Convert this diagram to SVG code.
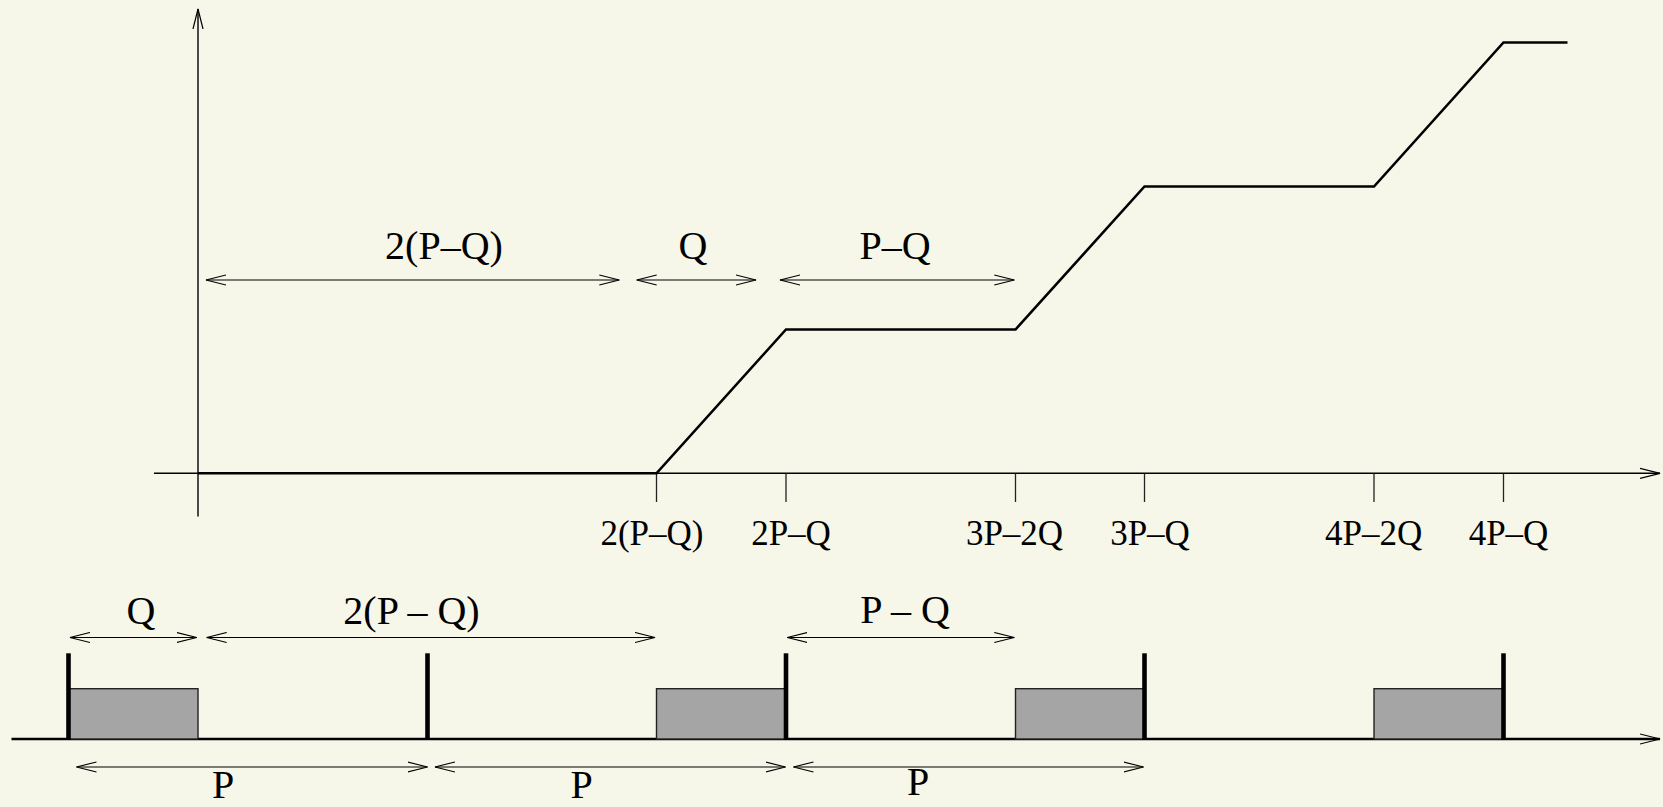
<svg xmlns="http://www.w3.org/2000/svg" width="1663" height="807" viewBox="0 0 1663 807">
<style>
.bg{fill:#f6f6e9}
.ax{stroke:#000;stroke-width:1.4;fill:none}
.tk{stroke:#222;stroke-width:1.3;fill:none}
.cv{stroke:#000;stroke-width:2.6;fill:none;stroke-linejoin:miter}
.dim{stroke:#000;stroke-width:1.2;fill:none}
.base{stroke:#000;stroke-width:2.6;fill:none}
.bar{stroke:#000;stroke-width:4.6;fill:none}
.box{fill:#a5a5a5;stroke:#222;stroke-width:1.4}
text{font-family:"Liberation Serif","Times New Roman",serif;fill:#000;text-anchor:middle}
.lb{font-size:40px}
.tl{font-size:35px}
</style>
<defs>
<marker id="ah" viewBox="0 0 22 12" refX="20" refY="6" markerWidth="22" markerHeight="12" markerUnits="userSpaceOnUse" orient="auto-start-reverse">
<path d="M0,1 L20,6 L0,11" fill="none" stroke="#000" stroke-width="1.2"/>
</marker>
</defs>
<rect class="bg" x="0" y="0" width="1663" height="807"/>

<g id="plot-axes">
<line class="ax" x1="198" y1="516.5" x2="198" y2="9" marker-end="url(#ah)"/>
<line class="ax" x1="154" y1="473.3" x2="1660" y2="473.3" marker-end="url(#ah)"/>
</g>

<g id="ticks">
<line class="tk" x1="656.5" y1="473.3" x2="656.5" y2="502"/>
<line class="tk" x1="786" y1="473.3" x2="786" y2="502"/>
<line class="tk" x1="1015.5" y1="473.3" x2="1015.5" y2="502"/>
<line class="tk" x1="1144.5" y1="473.3" x2="1144.5" y2="502"/>
<line class="tk" x1="1374" y1="473.3" x2="1374" y2="502"/>
<line class="tk" x1="1503.5" y1="473.3" x2="1503.5" y2="502"/>
</g>

<g id="tick-labels">
<text class="tl" x="652" y="545">2(P–Q)</text>
<text class="tl" x="791" y="545">2P–Q</text>
<text class="tl" x="1014.5" y="545">3P–2Q</text>
<text class="tl" x="1150" y="545">3P–Q</text>
<text class="tl" x="1373.7" y="545">4P–2Q</text>
<text class="tl" x="1508.5" y="545">4P–Q</text>
</g>

<g id="curve">
<polyline class="cv" points="198,473.3 656.5,473.3 786,329.5 1015.5,329.5 1144.5,186.5 1374,186.5 1503.5,42.5 1567.5,42.5"/>
</g>

<g id="timeline">
<line class="base" x1="11.5" y1="739" x2="1660" y2="739" marker-end="url(#ah)"/>
<rect class="box" x="68.5" y="688.7" width="129.5" height="50.3"/>
<rect class="box" x="656.5" y="688.7" width="129.5" height="50.3"/>
<rect class="box" x="1015.5" y="688.7" width="129" height="50.3"/>
<rect class="box" x="1374" y="688.7" width="129.5" height="50.3"/>
<line class="bar" x1="68.5" y1="653.3" x2="68.5" y2="740"/>
<line class="bar" x1="427.5" y1="653.3" x2="427.5" y2="740"/>
<line class="bar" x1="786" y1="653.3" x2="786" y2="740"/>
<line class="bar" x1="1144.5" y1="653.3" x2="1144.5" y2="740"/>
<line class="bar" x1="1503.5" y1="653.3" x2="1503.5" y2="740"/>
</g>

<g id="connectors">
<line class="dim" x1="206" y1="280" x2="619.3" y2="280" marker-start="url(#ah)" marker-end="url(#ah)"/>
<line class="dim" x1="636.7" y1="280" x2="756" y2="280" marker-start="url(#ah)" marker-end="url(#ah)"/>
<line class="dim" x1="780" y1="280" x2="1014.3" y2="280" marker-start="url(#ah)" marker-end="url(#ah)"/>
<line class="dim" x1="70" y1="637.5" x2="196.7" y2="637.5" marker-start="url(#ah)" marker-end="url(#ah)"/>
<line class="dim" x1="206.7" y1="637.5" x2="655" y2="637.5" marker-start="url(#ah)" marker-end="url(#ah)"/>
<line class="dim" x1="787.3" y1="637.5" x2="1014.3" y2="637.5" marker-start="url(#ah)" marker-end="url(#ah)"/>
<line class="dim" x1="76.5" y1="767" x2="427.5" y2="767" marker-start="url(#ah)" marker-end="url(#ah)"/>
<line class="dim" x1="435" y1="767" x2="785.5" y2="767" marker-start="url(#ah)" marker-end="url(#ah)"/>
<line class="dim" x1="793.5" y1="767" x2="1143.5" y2="767" marker-start="url(#ah)" marker-end="url(#ah)"/>
</g>

<g id="dim-labels">
<text class="lb" x="444" y="258.5">2(P–Q)</text>
<text class="lb" x="693" y="258.5">Q</text>
<text class="lb" x="895" y="258.5">P–Q</text>
<text class="lb" x="141" y="624">Q</text>
<text class="lb" x="411.5" y="624">2(P – Q)</text>
<text class="lb" x="905" y="623">P – Q</text>
<text class="lb" x="223" y="798">P</text>
<text class="lb" x="581.5" y="798">P</text>
<text class="lb" x="918" y="795">P</text>
</g>
</svg>
